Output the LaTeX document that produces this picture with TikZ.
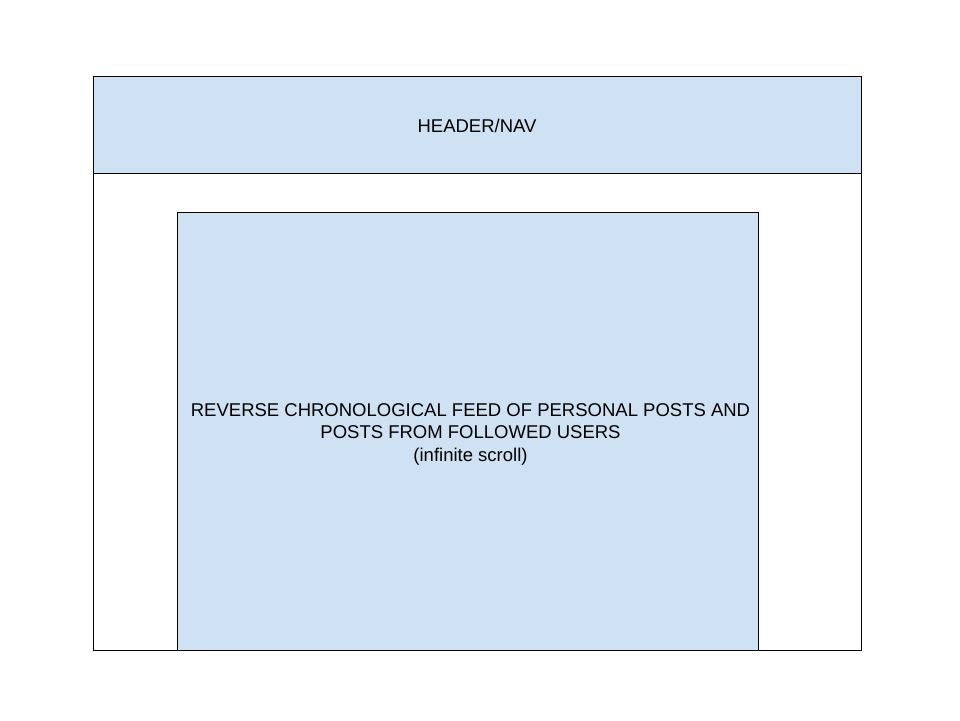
\documentclass[tikz,border=0pt]{standalone}
\usepackage{fontspec}
\setmainfont{Liberation Sans}
\usepackage{tikz}
\usepackage{xcolor}
\definecolor{paneblue}{HTML}{CFE2F3}
\tikzset{pane/.style={draw=black, fill=paneblue, line width=1pt},
  frame/.style={draw=black, line width=1pt},
  lbl/.style={font=\fontsize{18.5}{22.5}\selectfont, align=center, inner sep=0pt}}

\begin{document}
\begin{tikzpicture}[x=1pt,y=-1pt]
\useasboundingbox (0,0) rectangle (960,720);
\draw[frame](93,76) rectangle (861,650);
\draw[pane](93,76) rectangle (861,173);
\node[lbl] (header) at (477,126) {HEADER/NAV};
\draw[pane](177,212) rectangle (758,650);
\node[lbl] (feed) at (470.5,434) {REVERSE CHRONOLOGICAL FEED OF PERSONAL POSTS AND\\POSTS FROM FOLLOWED USERS\\(infinite scroll)};
\end{tikzpicture}
\end{document}
